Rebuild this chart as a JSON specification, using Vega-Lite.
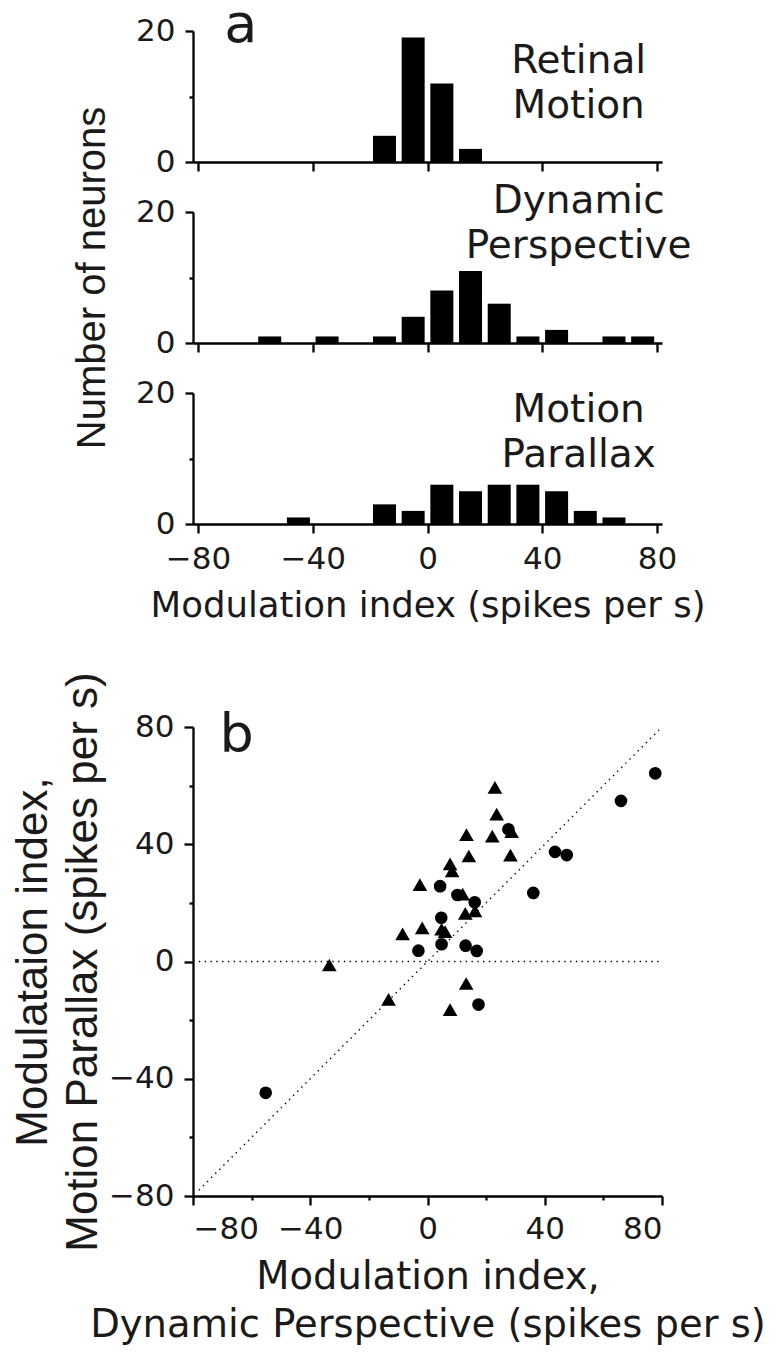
{
  "$schema": "https://vega.github.io/schema/vega-lite/v6.json",
  "background": "white",
  "padding": {"left": 11, "top": -2, "right": 5, "bottom": 2},
  "config": {
    "view": {"stroke": null},
    "font": "DejaVu Sans",
    "axis": {
      "grid": false,
      "domainColor": "black",
      "domainWidth": 2.3,
      "tickColor": "black",
      "tickWidth": 2.3,
      "tickSize": 9,
      "labelFont": "DejaVu Sans",
      "labelFontSize": 31,
      "labelColor": "#1a1a1a",
      "labelPadding": 9,
      "titleFont": "DejaVu Sans",
      "titleFontWeight": "normal",
      "titleColor": "#1a1a1a"
    }
  },
  "datasets": {
    "hist": [
      {"condition": "Retinal Motion", "center": -15, "count": 4},
      {"condition": "Retinal Motion", "center": -5, "count": 19},
      {"condition": "Retinal Motion", "center": 5, "count": 12},
      {"condition": "Retinal Motion", "center": 15, "count": 2},
      {"condition": "Dynamic Perspective", "center": -55, "count": 1},
      {"condition": "Dynamic Perspective", "center": -35, "count": 1},
      {"condition": "Dynamic Perspective", "center": -15, "count": 1},
      {"condition": "Dynamic Perspective", "center": -5, "count": 4},
      {"condition": "Dynamic Perspective", "center": 5, "count": 8},
      {"condition": "Dynamic Perspective", "center": 15, "count": 11},
      {"condition": "Dynamic Perspective", "center": 25, "count": 6},
      {"condition": "Dynamic Perspective", "center": 35, "count": 1},
      {"condition": "Dynamic Perspective", "center": 45, "count": 2},
      {"condition": "Dynamic Perspective", "center": 65, "count": 1},
      {"condition": "Dynamic Perspective", "center": 75, "count": 1},
      {"condition": "Motion Parallax", "center": -45, "count": 1},
      {"condition": "Motion Parallax", "center": -15, "count": 3},
      {"condition": "Motion Parallax", "center": -5, "count": 2},
      {"condition": "Motion Parallax", "center": 5, "count": 6},
      {"condition": "Motion Parallax", "center": 15, "count": 5},
      {"condition": "Motion Parallax", "center": 25, "count": 6},
      {"condition": "Motion Parallax", "center": 35, "count": 6},
      {"condition": "Motion Parallax", "center": 45, "count": 5},
      {"condition": "Motion Parallax", "center": 55, "count": 2},
      {"condition": "Motion Parallax", "center": 65, "count": 1}
    ],
    "neurons": [
      {"dp": 23.0, "mp": 59.4, "kind": "triangle"},
      {"dp": 23.6, "mp": 50.3, "kind": "triangle"},
      {"dp": 13.3, "mp": 43.3, "kind": "triangle"},
      {"dp": 22.1, "mp": 42.8, "kind": "triangle"},
      {"dp": 28.7, "mp": 44.3, "kind": "triangle"},
      {"dp": 14.1, "mp": 36.0, "kind": "triangle"},
      {"dp": 28.3, "mp": 36.3, "kind": "triangle"},
      {"dp": 7.7, "mp": 33.3, "kind": "triangle"},
      {"dp": 8.4, "mp": 30.9, "kind": "triangle"},
      {"dp": -2.6, "mp": 26.2, "kind": "triangle"},
      {"dp": 12.0, "mp": 23.0, "kind": "triangle"},
      {"dp": 12.9, "mp": 16.4, "kind": "triangle"},
      {"dp": 16.2, "mp": 17.3, "kind": "triangle"},
      {"dp": -1.8, "mp": 11.5, "kind": "triangle"},
      {"dp": -8.5, "mp": 9.4, "kind": "triangle"},
      {"dp": 4.8, "mp": 11.0, "kind": "triangle"},
      {"dp": 6.0, "mp": 10.2, "kind": "triangle"},
      {"dp": -33.5, "mp": -1.2, "kind": "triangle"},
      {"dp": 13.2, "mp": -7.5, "kind": "triangle"},
      {"dp": -13.3, "mp": -12.9, "kind": "triangle"},
      {"dp": 7.7, "mp": -16.4, "kind": "triangle"},
      {"dp": 27.6, "mp": 45.1, "kind": "circle"},
      {"dp": 4.3, "mp": 25.7, "kind": "circle"},
      {"dp": 10.2, "mp": 22.7, "kind": "circle"},
      {"dp": 16.1, "mp": 20.2, "kind": "circle"},
      {"dp": 4.7, "mp": 14.9, "kind": "circle"},
      {"dp": 4.8, "mp": 5.9, "kind": "circle"},
      {"dp": -3.1, "mp": 3.7, "kind": "circle"},
      {"dp": 13.0, "mp": 5.4, "kind": "circle"},
      {"dp": 16.8, "mp": 3.6, "kind": "circle"},
      {"dp": 17.4, "mp": -14.7, "kind": "circle"},
      {"dp": -55.2, "mp": -44.8, "kind": "circle"},
      {"dp": 77.7, "mp": 64.2, "kind": "circle"},
      {"dp": 66.0, "mp": 54.8, "kind": "circle"},
      {"dp": 43.5, "mp": 37.4, "kind": "circle"},
      {"dp": 47.5, "mp": 36.3, "kind": "circle"},
      {"dp": 36.1, "mp": 23.4, "kind": "circle"}
    ]
  },
  "bounds": "flush",
  "spacing": 50,
  "vconcat": [
    {
      "width": 469,
      "height": 131,
      "layer": [
        {
          "data": {"name": "hist"},
          "transform": [{"filter": "datum.condition === 'Retinal Motion'"}],
          "mark": {"type": "bar", "orient": "vertical", "width": 23, "color": "black"},
          "encoding": {
            "x": {"field": "center", "type": "quantitative", "scale": {"domain": [-80, 80], "nice": false, "zero": false},
                  "axis": {"values": [-80, -40, 0, 40, 80], "labels": false, "title": null}},
            "y": {"field": "count", "type": "quantitative", "stack": null, "scale": {"domain": [0, 20], "nice": false},
                  "axis": {"values": [0, 10, 20], "labelExpr": "datum.value === 10 ? '' : datum.label",
                           "tickSize": {"condition": {"test": "datum.value === 10", "value": 4}, "value": 8},
                           "labelPadding": 10, "title": null}}
          }
        },
        {
          "data": {"values": [{}]},
          "mark": {"type": "text", "text": ["Retinal", "Motion"], "align": "center", "baseline": "alphabetic", "fontSize": 39, "lineHeight": 45, "color": "#1a1a1a"},
          "encoding": {"x": {"datum": 52.7}, "y": {"datum": 13.54}}
        },
        {
          "data": {"values": [{}]},
          "mark": {"type": "text", "text": "a", "align": "center", "baseline": "alphabetic", "fontSize": 54, "color": "#1a1a1a"},
          "encoding": {"x": {"datum": -65.1}, "y": {"datum": 18.37}}
        }
      ]
    },
    {
      "width": 469,
      "height": 131,
      "layer": [
        {
          "data": {"name": "hist"},
          "transform": [{"filter": "datum.condition === 'Dynamic Perspective'"}],
          "mark": {"type": "bar", "orient": "vertical", "width": 23, "color": "black"},
          "encoding": {
            "x": {"field": "center", "type": "quantitative", "scale": {"domain": [-80, 80], "nice": false, "zero": false},
                  "axis": {"values": [-80, -40, 0, 40, 80], "labels": false, "title": null}},
            "y": {"field": "count", "type": "quantitative", "stack": null, "scale": {"domain": [0, 20], "nice": false},
                  "axis": {"values": [0, 10, 20], "labelExpr": "datum.value === 10 ? '' : datum.label",
                           "tickSize": {"condition": {"test": "datum.value === 10", "value": 4}, "value": 8},
                           "labelPadding": 10, "title": "Number of neurons", "titleFont": "Liberation Sans",
                           "titleFontSize": 40, "titlePadding": 23}}
          }
        },
        {
          "data": {"values": [{}]},
          "mark": {"type": "text", "text": ["Dynamic", "Perspective"], "align": "center", "baseline": "alphabetic", "fontSize": 39, "lineHeight": 45, "color": "#1a1a1a"},
          "encoding": {"x": {"datum": 52.7}, "y": {"datum": 19.8}}
        }
      ]
    },
    {
      "width": 469,
      "height": 131,
      "layer": [
        {
          "data": {"name": "hist"},
          "transform": [{"filter": "datum.condition === 'Motion Parallax'"}],
          "mark": {"type": "bar", "orient": "vertical", "width": 23, "color": "black"},
          "encoding": {
            "x": {"field": "center", "type": "quantitative", "scale": {"domain": [-80, 80], "nice": false, "zero": false},
                  "axis": {"values": [-80, -40, 0, 40, 80], "labelPadding": 11,
                           "title": "Modulation index (spikes per s)",
                           "titleFontSize": 35.5, "titlePadding": 14}},
            "y": {"field": "count", "type": "quantitative", "stack": null, "scale": {"domain": [0, 20], "nice": false},
                  "axis": {"values": [0, 10, 20], "labelExpr": "datum.value === 10 ? '' : datum.label",
                           "tickSize": {"condition": {"test": "datum.value === 10", "value": 4}, "value": 8},
                           "labelPadding": 10, "title": null}}
          }
        },
        {
          "data": {"values": [{}]},
          "mark": {"type": "text", "text": ["Motion", "Parallax"], "align": "center", "baseline": "alphabetic", "fontSize": 39, "lineHeight": 45, "color": "#1a1a1a"},
          "encoding": {"x": {"datum": 52.7}, "y": {"datum": 15.6}}
        }
      ]
    },
    {
      "width": 469,
      "height": 103,
      "data": {"values": [{}]},
      "mark": {"type": "point", "opacity": 0},
      "encoding": {}
    },
    {
      "width": 469,
      "height": 469,
      "encoding": {
        "x": {"type": "quantitative", "scale": {"domain": [-80, 80], "nice": false, "zero": false},
              "axis": {"values": [-80, -60, -40, -20, 0, 20, 40, 60, 80],
                       "labelExpr": "datum.value % 40 === 0 ? datum.label : ''",
                       "tickSize": {"condition": {"test": "datum.value % 40 !== 0", "value": 4}, "value": 9},
                       "title": ["Modulation index,", "Dynamic Perspective (spikes per s)"],
                       "titleFontSize": 38.5, "titleLineHeight": 48, "titlePadding": 14}},
        "y": {"type": "quantitative", "scale": {"domain": [-80, 80], "nice": false, "zero": false},
              "axis": {"values": [-80, -60, -40, -20, 0, 20, 40, 60, 80],
                       "labelExpr": "datum.value % 40 === 0 ? datum.label : ''",
                       "tickSize": {"condition": {"test": "datum.value % 40 !== 0", "value": 4}, "value": 9},
                       "labelPadding": 10,
                       "title": ["Modulataion index,", "Motion Parallax (spikes per s)"],
                       "titleFont": "Liberation Sans", "titleFontSize": 44, "titleLineHeight": 50, "titlePadding": 3}}
      },
      "layer": [
        {
          "data": {"values": [{}]},
          "mark": {"type": "rule", "color": "black", "strokeWidth": 1.4, "strokeDash": [1.4, 4.4]},
          "encoding": {"x": {"datum": -78}, "y": {"datum": -78}, "x2": {"datum": 79}, "y2": {"datum": 79}}
        },
        {
          "data": {"values": [{}]},
          "mark": {"type": "rule", "color": "black", "strokeWidth": 1.4, "strokeDash": [1.4, 4.4]},
          "encoding": {"x": {"datum": -78}, "x2": {"datum": 79}, "y": {"datum": 0}}
        },
        {
          "data": {"name": "neurons"},
          "transform": [{"filter": "datum.kind === 'triangle'"}],
          "mark": {"type": "point", "shape": "triangle-up", "filled": true, "color": "black", "opacity": 1, "size": 215},
          "encoding": {"x": {"field": "dp"}, "y": {"field": "mp"}}
        },
        {
          "data": {"name": "neurons"},
          "transform": [{"filter": "datum.kind === 'circle'"}],
          "mark": {"type": "point", "shape": "circle", "filled": true, "color": "black", "opacity": 1, "size": 160},
          "encoding": {"x": {"field": "dp"}, "y": {"field": "mp"}}
        },
        {
          "data": {"values": [{}]},
          "mark": {"type": "text", "text": "b", "align": "center", "baseline": "alphabetic", "fontSize": 54, "color": "#1a1a1a"},
          "encoding": {"x": {"datum": -65.1}, "y": {"datum": 71.6}}
        }
      ]
    }
  ]
}
